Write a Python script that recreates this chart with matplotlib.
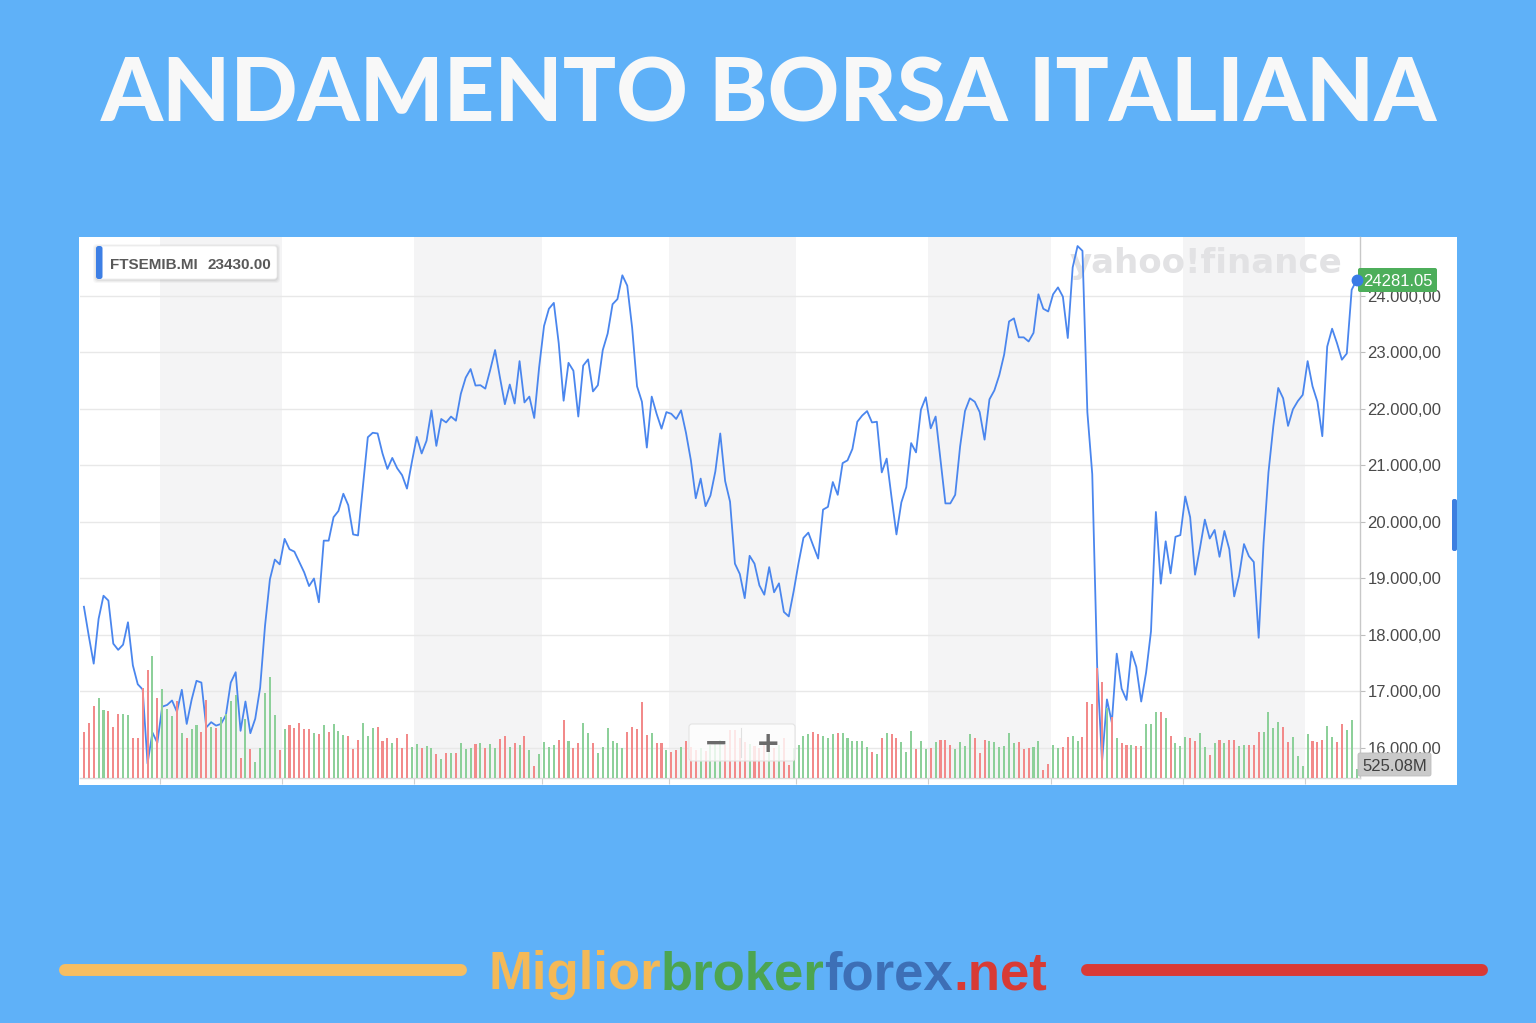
import matplotlib
matplotlib.use("Agg")
import matplotlib.pyplot as plt
from matplotlib.patches import Rectangle, FancyBboxPatch
from matplotlib.ticker import FuncFormatter
import numpy as np

plt.rcParams['font.family'] = ['Liberation Sans', 'DejaVu Sans']

# ---------------- data ----------------
title = "ANDAMENTO BORSA ITALIANA"
ticker = "FTSEMIB.MI"
legend_value = "23430.00"
last_price_label = "24281.05"
last_volume_label = "525.08M"
watermark = "yahoo!finance"
footer_parts = ["Miglior", "broker", "forex", ".net"]
footer_colors = ["#F4B957", "#4CA551", "#3D6FB6", "#D83B35"]

close = [
    18500, 17980, 17493, 18286, 18695, 18609, 17847, 17737, 17829, 18225,
    17463, 17128, 17036, 15725, 16274, 16091, 16731, 16762, 16841, 16640,
    17030, 16426, 16853, 17189, 17158, 16365, 16457, 16396, 16426, 16579,
    17158, 17341, 16304, 16823, 16262, 16518, 17067, 18164, 18987, 19335,
    19250, 19701, 19518, 19475, 19292, 19109, 18866, 19000, 18579, 19670,
    19670, 20085, 20195, 20500, 20298, 19780, 19762, 20634, 21500, 21579,
    21567, 21213, 20939, 21134, 20951, 20829, 20591, 21061, 21506, 21213,
    21439, 21976, 21347, 21823, 21762, 21866, 21793, 22268, 22555, 22707,
    22415, 22421, 22360, 22689, 23043, 22555, 22085, 22433, 22097, 22847,
    22116, 22219, 21841, 22738, 23469, 23774, 23878, 23165, 22146, 22817,
    22677, 21866, 22768, 22878, 22311, 22421, 23043, 23335, 23854, 23945,
    24366, 24183, 23439, 22402, 22128, 21317, 22219, 21915, 21652, 21945,
    21915, 21823, 21976, 21579, 21091, 20420, 20768, 20280, 20469, 20896,
    21567, 20725, 20360, 19262, 19079, 18652, 19402, 19262, 18878, 18713,
    19201, 18756, 18914, 18408, 18329, 18774, 19274, 19719, 19811, 19579,
    19353, 20219, 20268, 20707, 20481, 21042, 21091, 21293, 21774, 21884,
    21963, 21762, 21774, 20878, 21122, 20433, 19780, 20347, 20616, 21396,
    21232, 21988, 22207, 21658, 21866, 21091, 20329, 20329, 20481, 21335,
    21963, 22189, 22128, 21945, 21457, 22171, 22329, 22597, 22963, 23549,
    23604, 23268, 23268, 23195, 23347, 24030, 23774, 23726, 24030, 24152,
    23988, 23256, 24506, 24884, 24799, 21945, 20847, 17451, 15758, 16860,
    16450, 17670, 17050, 16850, 17706, 17435, 16822, 17336, 18065, 20177,
    18908, 19658, 19091, 19738, 19768, 20451, 20085, 19067, 19536, 20042,
    19707, 19859, 19384, 19841, 19518, 18683, 19048, 19609, 19396, 19292,
    17951, 19628, 20878, 21701, 22372, 22189, 21701, 21994, 22140, 22250,
    22847, 22402, 22128, 21518, 23104, 23421, 23165, 22872, 22982, 24110,
    24281.05,
]

volume_m = [
    2670, 3190, 4180, 4640, 3940, 3890, 2960, 3710, 3710, 3650,
    2320, 2320, 5220, 6260, 7080, 4640, 5160, 4000, 3600, 4470,
    2610, 2320, 2840, 3070, 2670, 4520, 2960, 2900, 3540, 3710,
    4470, 4810, 1160, 3420, 1680, 930, 1740, 4930, 5860, 3650,
    1620, 2840, 3070, 2900, 3190, 2840, 2840, 2610, 2550, 3070,
    2670, 3130, 2730, 2490, 2440, 1680, 2200, 3190, 2440, 2900,
    2960, 2150, 2320, 2030, 2320, 1740, 2550, 1800, 1970, 1740,
    1860, 1740, 1390, 1100, 1450, 1450, 1450, 2030, 1680, 1740,
    1970, 2030, 1740, 1970, 1740, 2260, 2440, 1800, 2030, 1910,
    2440, 1620, 700, 1390, 2090, 1800, 1910, 2200, 3360, 2150,
    1740, 2030, 3190, 2610, 2030, 1450, 1800, 2900, 2150, 2030,
    1740, 2670, 2960, 2840, 4410, 2490, 2610, 2030, 2030, 1620,
    1510, 1620, 1800, 2150, 1800, 1620, 1740, 1570, 1910, 2030,
    2200, 1910, 2780, 2780, 2320, 2090, 1970, 1860, 1740, 2090,
    1970, 1740, 1910, 2320, 750, 1740, 1910, 2440, 2550, 2670,
    2550, 2440, 2320, 2550, 2610, 2610, 2320, 2150, 2150, 2150,
    1800, 1510, 1390, 2320, 2610, 2550, 2320, 2090, 1510, 2730,
    1680, 2150, 1680, 1740, 2090, 2200, 2200, 1910, 1680, 2090,
    1860, 2550, 2320, 1450, 2200, 2150, 2090, 1800, 1860, 2610,
    2030, 2090, 1680, 1740, 1800, 2150, 460, 810, 1910, 1740,
    1800, 2380, 2440, 2150, 2380, 4410, 4290, 6380, 5570, 4060,
    3540, 2320, 2030, 1910, 1910, 1860, 1860, 3130, 3130, 3830,
    3830, 3480, 2440, 2030, 1860, 2380, 2320, 2150, 2610, 1800,
    1330, 2030, 2200, 2030, 2200, 2200, 1860, 1910, 1910, 1910,
    2670, 2670, 3830, 2900, 3250, 2960, 2090, 2380, 1280, 700,
    2550, 2150, 2090, 2200, 3020, 2380, 2090, 3130, 2780, 3360,
    525.08,
]

# trading-day index at which each new month (alternating band) begins
month_starts = [16, 41, 68, 94, 120, 146, 173, 198, 225, 250]
price_ticks = [16000, 17000, 18000, 19000, 20000, 21000, 22000, 23000, 24000]
price_range = (15469, 25044)
volume_top_m = 31378

# ---------------- style ----------------
BG = "#5FB1F8"
LINE = "#4A86EE"
UP = "#8DD09A"
DOWN = "#F28A8A"
BAND = "#F4F4F5"

W, H, DPI = 1536, 1023, 100
fig = plt.figure(figsize=(W / DPI, H / DPI), dpi=DPI, facecolor=BG)


def rect_fig(x0, y0, x1, y1):
    return [x0 / W, 1 - y1 / H, (x1 - x0) / W, (y1 - y0) / H]


def overlay(z):
    o = fig.add_axes([0, 0, 1, 1], zorder=z)
    o.set_xlim(0, W)
    o.set_ylim(H, 0)
    o.axis("off")
    return o


bg = overlay(0)
bg.add_patch(Rectangle((79, 237), 1378, 548, fc="white", ec="none"))

days = np.arange(len(close))
n = len(close)

# ---------------- price axes ----------------
ax = fig.add_axes(rect_fig(80, 237, 1360, 778), zorder=1)
ax.patch.set_visible(False)
ax.set_xlim(-0.8, n - 0.3)
ax.set_ylim(*price_range)

bounds = [-0.8] + [m - 0.5 for m in month_starts] + [n - 0.3]
for i in range(len(bounds) - 1):
    if i % 2 == 1:
        ax.axvspan(bounds[i], bounds[i + 1], color=BAND, lw=0, zorder=0)

ax.set_axisbelow(True)
ax.set_yticks(price_ticks)
ax.yaxis.grid(True, color="#E8E8E8", lw=1.0)
ax.yaxis.tick_right()


def it_fmt(v, pos):
    s = f"{v:,.2f}"
    return s.replace(",", "X").replace(".", ",").replace("X", ".")


ax.yaxis.set_major_formatter(FuncFormatter(it_fmt))
ax.tick_params(axis="y", right=True, left=False, labelright=True, labelleft=False,
               length=3.5, width=0.8, color="#BDBDBD", pad=1.8,
               labelsize=12, labelcolor="#4A4A4A")
ax.set_xticks([m - 0.5 for m in month_starts])
ax.tick_params(axis="x", length=4.5, width=0.8, color="#D0D0D0", labelbottom=False)
for s in ("top", "left"):
    ax.spines[s].set_visible(False)
ax.spines["right"].set_color("#C8C8C8")
ax.spines["right"].set_linewidth(1.0)
ax.spines["bottom"].set_color("#DADADA")
ax.spines["bottom"].set_linewidth(1.0)

wm = ax.text(1070, 272.5, watermark, transform=bg.transData, fontsize=24,
             fontfamily="DejaVu Sans", fontweight="bold", color="#E2E2E4",
             ha="left", va="baseline", zorder=1, clip_on=False)

ax.plot(days, close, color=LINE, lw=1.3, zorder=3, solid_joinstyle="round")

# ---------------- volume axes ----------------
vax = fig.add_axes(rect_fig(80, 237, 1360, 778), zorder=2, sharex=ax)
vax.patch.set_visible(False)
vax.axis("off")
vax.set_ylim(0, volume_top_m)
vcolors = [DOWN] + [UP if close[i] > close[i - 1] else DOWN for i in range(1, n)]
vax.bar(days, volume_m, width=0.42, color=vcolors, lw=0, zorder=2)

# ---------------- top overlay ----------------
top = overlay(3)
top.plot([days[-1]], [close[-1]], "o", ms=7.5, color="#3A7BE6", transform=ax.transData,
         clip_on=False, zorder=5)

# legend box
for k, a in ((3, 0.03), (2, 0.04), (1, 0.05)):
    top.add_patch(FancyBboxPatch((96 - k, 246 - k + 1), 181 + 2 * k, 33 + 2 * k,
                                 boxstyle="round,pad=0,rounding_size=4", fc="black",
                                 ec="none", alpha=a))
top.add_patch(FancyBboxPatch((96, 246), 181, 33, boxstyle="round,pad=0,rounding_size=3",
                             fc="white", ec="#ECECEC", lw=0.6))
top.add_patch(FancyBboxPatch((96, 246), 6.5, 33, boxstyle="round,pad=0,rounding_size=2.5",
                             fc="#3D7FE5", ec="none"))
top.text(110, 269, ticker, fontsize=11, fontweight="bold", color="#595959",
         ha="left", va="baseline")
top.text(207, 269, legend_value, fontsize=11, fontweight="bold", color="#595959",
         ha="left", va="baseline")

# last price label
top.add_patch(FancyBboxPatch((1358, 268), 79, 24, boxstyle="round,pad=0,rounding_size=2",
                             fc="#4DAE5B", ec="none"))
top.text(1397.5, 286, last_price_label, fontsize=12, color="white", ha="center",
         va="baseline")

# last volume label
top.add_patch(FancyBboxPatch((1358, 753), 73, 23, boxstyle="round,pad=0,rounding_size=2",
                             fc="#CACACA", ec="#BEBEBE", lw=0.6))
top.text(1394.5, 771, last_volume_label, fontsize=12, color="#404040", ha="center",
         va="baseline")

# right-edge handle
top.add_patch(FancyBboxPatch((1452, 499), 5, 52, boxstyle="round,pad=0,rounding_size=2",
                             fc="#3C7FE0", ec="none"))

# zoom buttons
top.add_patch(FancyBboxPatch((689, 724), 106, 37, boxstyle="round,pad=0,rounding_size=3",
                             fc=(1, 1, 1, 0.8), ec="#E3E3E3", lw=0.8))
top.plot([741, 741], [728, 757], color="#E0E0E0", lw=0.8)
top.text(716, 752, "\u2212", fontsize=21, fontfamily="DejaVu Sans", fontweight="bold",
         color="#6B6B6B", ha="center", va="baseline")
top.text(768, 752, "+", fontsize=21, fontfamily="DejaVu Sans", fontweight="bold",
         color="#6B6B6B", ha="center", va="baseline")

# title
ttl = top.text(769, 122, title, fontsize=60, fontfamily="Lato", fontweight="black",
               color="#F8F8F8", ha="center", va="baseline")

# footer lines
top.plot([65, 461], [969.5, 969.5], color="#F6BE62", lw=8.6, solid_capstyle="round")
top.plot([1087, 1482], [969.5, 969.5], color="#D93A36", lw=8.6, solid_capstyle="round")

# footer multi-coloured text
parts = [top.text(0, 989, p, fontsize=38, fontweight="bold", color=c,
                  ha="left", va="baseline") for p, c in zip(footer_parts, footer_colors)]

fig.canvas.draw()
R = fig.canvas.get_renderer()

# fit title / watermark / footer widths
tw = ttl.get_window_extent(renderer=R).width
ttl.set_fontsize(ttl.get_fontsize() * 1338 / tw)
ww = wm.get_window_extent(renderer=R).width
wm.set_fontsize(wm.get_fontsize() * 273 / ww)
widths = [p.get_window_extent(renderer=R).width for p in parts]
scale = 559 / sum(widths)
x = 488
for p, w in zip(parts, widths):
    p.set_fontsize(p.get_fontsize() * scale)
    p.set_x(x)
    x += w * scale

fig.savefig("out.png", dpi=DPI, facecolor=BG)
